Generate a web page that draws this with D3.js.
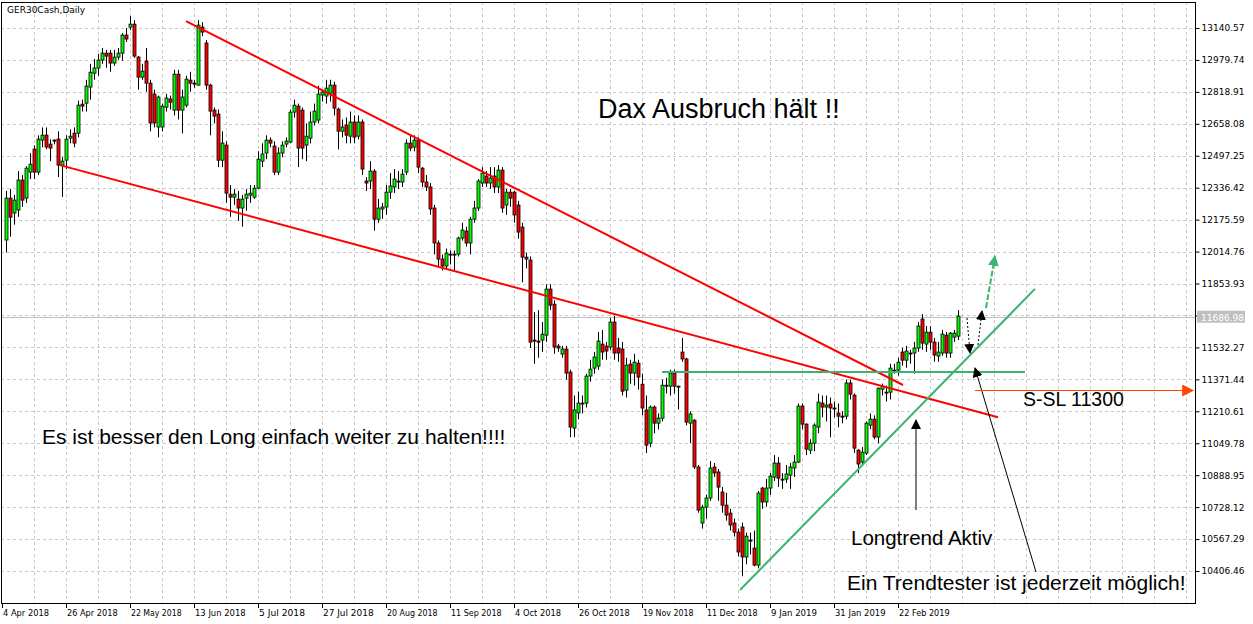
<!DOCTYPE html>
<html>
<head>
<meta charset="utf-8">
<script src="https://cdnjs.cloudflare.com/ajax/libs/d3/7.8.5/d3.min.js"></script>
<style>
body{margin:0;background:#fff;}
svg{display:block;}
</style>
</head>
<body>
<svg id="chart" width="1253" height="624"></svg>
<script>
// daily candles GER30Cash: [open, high, low, close]
var candles = [
[12073,12320,12010,12284],[12284,12330,12090,12188],[12209,12300,12150,12274],[12224,12420,12190,12375],
[12375,12400,12240,12274],[12284,12445,12260,12435],[12415,12510,12380,12455],[12531,12550,12380,12415],
[12415,12600,12400,12581],[12576,12640,12540,12601],[12601,12640,12530,12541],[12556,12580,12470,12536],
[12576,12580,12555,12571],[12581,12620,12390,12450],[12450,12490,12290,12470],[12475,12600,12430,12581],
[12586,12630,12560,12596],[12611,12640,12540,12561],[12611,12775,12590,12752],[12757,12780,12720,12747],
[12762,12880,12720,12848],[12843,12960,12780,12918],[12913,12985,12880,12939],[12939,13010,12900,12979],
[12979,13040,12960,13014],[13014,13030,12940,12999],[13014,13030,12920,12964],[12964,13030,12950,12994],
[12994,13040,12980,13014],[13014,13115,12975,13105],[13105,13140,13070,13085],[13145,13200,13130,13160],
[13160,13180,12990,12999],[12994,13000,12830,12893],[12893,12960,12880,12923],[12974,13040,12820,12863],
[12863,12880,12620,12662],[12808,12830,12640,12662],[12642,12800,12590,12793],[12642,12760,12620,12747],
[12742,12810,12720,12788],[12783,12800,12730,12767],[12727,12930,12700,12908],[12908,12930,12680,12727],
[12727,12830,12610,12793],[12752,12900,12740,12883],[12878,12920,12820,12863],[12863,12880,12840,12858],
[12853,13180,12850,13155],[13145,13170,13100,13120],[13065,13080,12830,12853],[12853,12860,12600,12722],
[12727,12740,12660,12697],[12707,12730,12440,12475],[12475,12620,12440,12561],[12551,12570,12260,12309],
[12304,12350,12190,12289],[12289,12330,12250,12304],[12279,12320,12170,12234],[12234,12300,12140,12279],
[12284,12330,12220,12304],[12299,12350,12260,12309],[12289,12350,12280,12334],[12334,12520,12330,12480],
[12470,12560,12440,12506],[12511,12600,12480,12576],[12576,12590,12540,12561],[12546,12570,12400,12415],
[12415,12540,12400,12511],[12511,12570,12490,12551],[12556,12590,12540,12571],[12566,12730,12560,12717],
[12717,12780,12690,12752],[12747,12760,12440,12536],[12727,12740,12480,12536],[12551,12660,12470,12596],
[12586,12720,12560,12667],[12667,12760,12650,12722],[12677,12850,12660,12808],[12803,12830,12770,12818],
[12798,12880,12760,12838],
[12813,12880,12770,12853],[12853,12870,12700,12737],[12732,12740,12530,12621],[12621,12680,12590,12642],
[12652,12690,12560,12601],[12596,12720,12560,12667],[12667,12700,12560,12591],[12596,12700,12580,12667],
[12667,12680,12400,12430],[12370,12390,12320,12360],[12370,12470,12330,12420],[12420,12430,12120,12178],
[12178,12280,12160,12234],[12229,12260,12180,12239],[12239,12350,12200,12314],[12314,12410,12280,12345],
[12340,12430,12310,12380],[12370,12420,12330,12365],[12365,12430,12340,12405],[12415,12580,12400,12561],
[12561,12600,12520,12536],[12541,12600,12520,12576],[12576,12590,12410,12440],[12435,12440,12340,12365],
[12365,12400,12320,12340],[12340,12360,12200,12229],[12234,12250,12000,12058],[12058,12070,11940,11977],
[11977,12000,11920,11942],[11942,12030,11925,12007],[12002,12020,11950,11997],[12002,12020,11920,12002],
[12002,12090,11990,12083],[12083,12160,12070,12123],[12118,12140,12040,12058],[12058,12190,12000,12178],
[12178,12270,12160,12234],[12234,12380,12220,12370],[12360,12440,12340,12410],[12395,12420,12340,12360],
[12360,12440,12330,12385],[12395,12440,12310,12340],[12340,12450,12310,12425],[12425,12440,12210,12234],
[12249,12330,12200,12314],[12314,12330,12240,12284],[12314,12320,12160,12199],[12249,12270,12080,12113],
[12138,12160,11860,11987],[11987,12010,11930,11977],[11972,11990,11530,11559],[11569,11710,11450,11564],
[11564,11720,11480,11559],[11569,11660,11510,11599],[11594,11850,11560,11826],[11826,11850,11720,11745],
[11750,11770,11500,11534],[11539,11550,11510,11529],[11499,11540,11480,11524],[11524,11540,11370,11403],
[11408,11420,11080,11131],[11126,11290,11080,11217],[11202,11310,11170,11252],[11252,11290,11200,11247],
[11252,11400,11230,11388],[11388,11470,11360,11423],[11428,11510,11400,11484],[11438,11610,11420,11564],
[11549,11620,11470,11509],[11539,11560,11470,11514],[11534,11680,11520,11660],[11660,11690,11470,11504],
[11529,11580,11460,11504],[11524,11560,11290,11312],[11317,11480,11280,11443],[11448,11470,11350,11403],
[11403,11500,11340,11458],[11453,11470,11320,11383],[11347,11400,11190,11227],[11217,11290,11000,11040],
[11050,11240,11030,11232],[11232,11240,11100,11151],[11151,11200,11120,11176],[11176,11370,11160,11342],
[11337,11380,11300,11342],[11337,11420,11290,11403],[11403,11420,11300,11337],[11337,11340,11220,11337],
[11509,11580,11460,11474],[11474,11480,11140,11156],[11151,11210,11050,11197],[11166,11170,10920,10930],
[10930,10940,10700,10713],[10648,10740,10620,10728],[10728,10790,10670,10774],[10774,10960,10760,10925],
[10930,10950,10880,10900],[10905,10920,10760,10829],[10804,10830,10700,10738],[10738,10800,10660,10688],
[10698,10720,10610,10638],[10648,10670,10580,10602],[10602,10620,10480,10502],[10628,10650,10380,10477],
[10477,10600,10440,10582],[10562,10600,10490,10557],[10522,10610,10430,10436],[10436,10810,10420,10799],
[10824,10830,10720,10754],[10754,10870,10730,10824],[10824,10900,10790,10884],[10879,10990,10860,10950],
[10950,10980,10830,10874],[10869,10900,10820,10869],[10869,10940,10850,10895],[10889,10950,10820,10930],
[10925,10990,10880,10955],[10955,11250,10950,11237],[11237,11250,11120,11146],[11146,11150,10990,11020],
[11015,11070,10995,11050],[11050,11150,11010,11141],[11131,11300,11100,11257],[11252,11290,11180,11232],
[11232,11290,11160,11242],[11247,11280,11080,11227],[11227,11260,11180,11222],[11202,11250,11130,11186],
[11186,11210,11150,11181],[11186,11370,11170,11353],[11353,11370,11270,11297],[11292,11300,11000,11025],
[11015,11020,10900,10945],[10955,11030,10940,11005],[11000,11160,10990,11151],[11141,11200,11120,11171],
[11171,11190,11070,11081],[11081,11330,11050,11327],[11322,11350,11290,11337],[11307,11340,11260,11307],
[11307,11450,11270,11428],[11418,11450,11400,11413],[11418,11480,11390,11458],[11509,11530,11440,11468],
[11468,11540,11430,11514],[11504,11520,11450,11499],[11504,11560,11400,11529],[11529,11660,11510,11640],
[11675,11700,11520,11554],[11549,11640,11510,11609],[11609,11640,11520,11559],[11559,11580,11460,11494],
[11489,11560,11460,11509],[11504,11620,11490,11599],[11594,11610,11480,11504],[11504,11610,11480,11604],
[11584,11620,11560,11604],[11589,11720,11570,11690]
];

var priceTicks = [13140.57,12979.74,12818.91,12658.08,12497.25,12336.42,12175.59,12014.76,11853.93,
  11693.10,11532.27,11371.44,11210.61,11049.78,10888.95,10728.12,10567.29,10406.46];
var dateLabels = ["4 Apr 2018","26 Apr 2018","22 May 2018","13 Jun 2018","5 Jul 2018","27 Jul 2018",
  "20 Aug 2018","11 Sep 2018","4 Oct 2018","26 Oct 2018","19 Nov 2018","11 Dec 2018","9 Jan 2019",
  "31 Jan 2019","22 Feb 2019"];
var lastPrice = 11686.98;
var stopLevel = 11320;

// trend lines drawn in the picture: [bar index, price]
var redUpper = [[45, 13175], [224.25, 11343]];
var redLower = [[13.5, 12450], [248, 11181]];
var greenFlat = [[164, 11408], [254.75, 11408]];
var greenRise = [[183.5, 10311], [257.25, 11827]];

var W = 1253, H = 624;
var plotL = 1, plotR = 1195, plotT = 2, plotB = 603;

var x = d3.scaleLinear().domain([0, 238]).range([6, 958]);
var y = d3.scaleLinear().domain([10406.46, 13140.57]).range([571, 28]);

var svg = d3.select("#chart");
var g = svg.append("g");

// grid
var vgrid = d3.range(plotL + 1 + 32, plotR, 32);
g.selectAll(".vg").data(vgrid).enter().append("line")
  .attr("x1", d => d + 0.5).attr("x2", d => d + 0.5)
  .attr("y1", plotT).attr("y2", plotB)
  .attr("stroke", "#c8c8c8").attr("stroke-dasharray", "3,3");
g.selectAll(".hg").data(priceTicks).enter().append("line")
  .attr("x1", plotL).attr("x2", plotR)
  .attr("y1", d => Math.round(y(d)) + 0.5).attr("y2", d => Math.round(y(d)) + 0.5)
  .attr("stroke", "#c8c8c8").attr("stroke-dasharray", "3,3");

// last price line
g.append("line").attr("x1", plotL).attr("x2", plotR)
  .attr("y1", Math.round(y(lastPrice)) + 0.5).attr("y2", Math.round(y(lastPrice)) + 0.5)
  .attr("stroke", "#c0c0c0");

// frame
g.append("rect").attr("x", plotL + 0.5).attr("y", plotT + 0.5)
  .attr("width", plotR - plotL).attr("height", plotB - plotT)
  .attr("fill", "none").attr("stroke", "#000");

// price axis
var yAxis = d3.axisRight(y).tickValues(priceTicks).tickSize(4)
  .tickFormat(d => d.toFixed(2));
var ya = g.append("g").attr("transform", "translate(" + (plotR + 0.5) + ",0)").call(yAxis);
ya.select(".domain").remove();
ya.selectAll("text").attr("font-family", "DejaVu Sans").attr("font-size", 9).attr("x", 6).attr("fill", "#000");

// last price label
g.append("rect").attr("x", plotR + 2).attr("y", y(lastPrice) - 6).attr("width", 48).attr("height", 12)
  .attr("fill", "#c0c0c0");
g.append("text").attr("x", plotR + 6).attr("y", y(lastPrice) + 4).text(lastPrice.toFixed(2))
  .attr("font-family", "DejaVu Sans").attr("font-size", 9).attr("fill", "#fff");

// date axis
var xd = d3.scaleLinear().domain([0, dateLabels.length - 1]).range([2, 2 + 64 * (dateLabels.length - 1)]);
var xa = g.append("g");
xa.selectAll("line").data(dateLabels).enter().append("line")
  .attr("x1", (d, i) => xd(i) + 0.5).attr("x2", (d, i) => xd(i) + 0.5)
  .attr("y1", plotB).attr("y2", plotB + 5).attr("stroke", "#000");
xa.selectAll("text").data(dateLabels).enter().append("text")
  .attr("x", (d, i) => xd(i) + 1).attr("y", 616).text(d => d)
  .attr("font-family", "DejaVu Sans").attr("font-size", 9.5).attr("textLength", d => d.length * 4.6)
  .attr("lengthAdjust", "spacingAndGlyphs");

// candles
var cg = g.append("g");
var c = cg.selectAll("g").data(candles).enter().append("g");
c.append("line")
  .attr("x1", (d, i) => Math.round(x(i)) + 0.5).attr("x2", (d, i) => Math.round(x(i)) + 0.5)
  .attr("y1", d => y(d[1])).attr("y2", d => y(d[2]))
  .attr("stroke", "#000");
c.append("rect")
  .attr("x", (d, i) => Math.round(x(i)) - 1)
  .attr("y", d => y(Math.max(d[0], d[3])))
  .attr("width", 3)
  .attr("height", d => Math.max(1, Math.abs(y(d[0]) - y(d[3]))))
  .attr("fill", d => d[3] >= d[0] ? "#00ff00" : "#ff0000")
  .attr("stroke", "#000").attr("stroke-width", 0.8);

// trend lines
function seg(p, color, w) {
  g.append("line").attr("x1", x(p[0][0])).attr("y1", y(p[0][1]))
    .attr("x2", x(p[1][0])).attr("y2", y(p[1][1]))
    .attr("stroke", color).attr("stroke-width", w);
}
seg(redUpper, "#ff0000", 2);
seg(redLower, "#ff0000", 2);
seg(greenFlat, "#3cb371", 2);
seg(greenRise, "#3cb371", 2);

// arrows
var defs = svg.append("defs");
function marker(id, color, size) {
  defs.append("marker").attr("id", id).attr("viewBox", "0 0 10 10")
    .attr("refX", 9).attr("refY", 5).attr("markerWidth", size).attr("markerHeight", size)
    .attr("markerUnits", "userSpaceOnUse").attr("orient", "auto")
    .append("path").attr("d", "M0,0L10,5L0,10Z").attr("fill", color);
}
marker("mk", "#000", 10);
marker("mg", "#3cb371", 11);
marker("mr", "#ff4500", 12);
function arrow(x1, y1, x2, y2, color, w, dash, mk) {
  g.append("line").attr("x1", x1).attr("y1", y1).attr("x2", x2).attr("y2", y2)
    .attr("stroke", color).attr("stroke-width", w)
    .attr("stroke-dasharray", dash).attr("marker-end", "url(#" + mk + ")");
}
arrow(986, 308, 995, 256, "#3cb371", 2, "6,2", "mg");
arrow(967, 318, 970, 353, "#000", 1, "2,2", "mk");
arrow(978, 345, 982, 311, "#000", 1, "2,2", "mk");
arrow(1036, 572, 975, 368, "#000", 1, null, "mk");
arrow(916, 510, 916, 420, "#000", 1, null, "mk");
arrow(975, Math.round(y(stopLevel)) + 0.5, 1193, Math.round(y(stopLevel)) + 0.5, "#ff4500", 1, null, "mr");

// texts
function txt(s, tx, ty, size) {
  g.append("text").attr("x", tx).attr("y", ty).text(s)
    .attr("font-family", "Liberation Sans, Arial").attr("font-size", size).attr("fill", "#000");
}
g.append("text").attr("x", 7).attr("y", 13).text("GER30Cash,Daily")
  .attr("font-family", "DejaVu Sans").attr("font-size", 9);
txt("Dax Ausbruch hält !!", 598, 118, 27);
txt("Es ist besser den Long einfach weiter zu halten!!!!", 42, 444, 21);
txt("Longtrend Aktiv", 851, 545, 20.5);
txt("Ein Trendtester ist jederzeit möglich!", 847, 590, 21);
txt("S-SL 11300", 1023, 406, 19.5);
</script>
</body>
</html>
